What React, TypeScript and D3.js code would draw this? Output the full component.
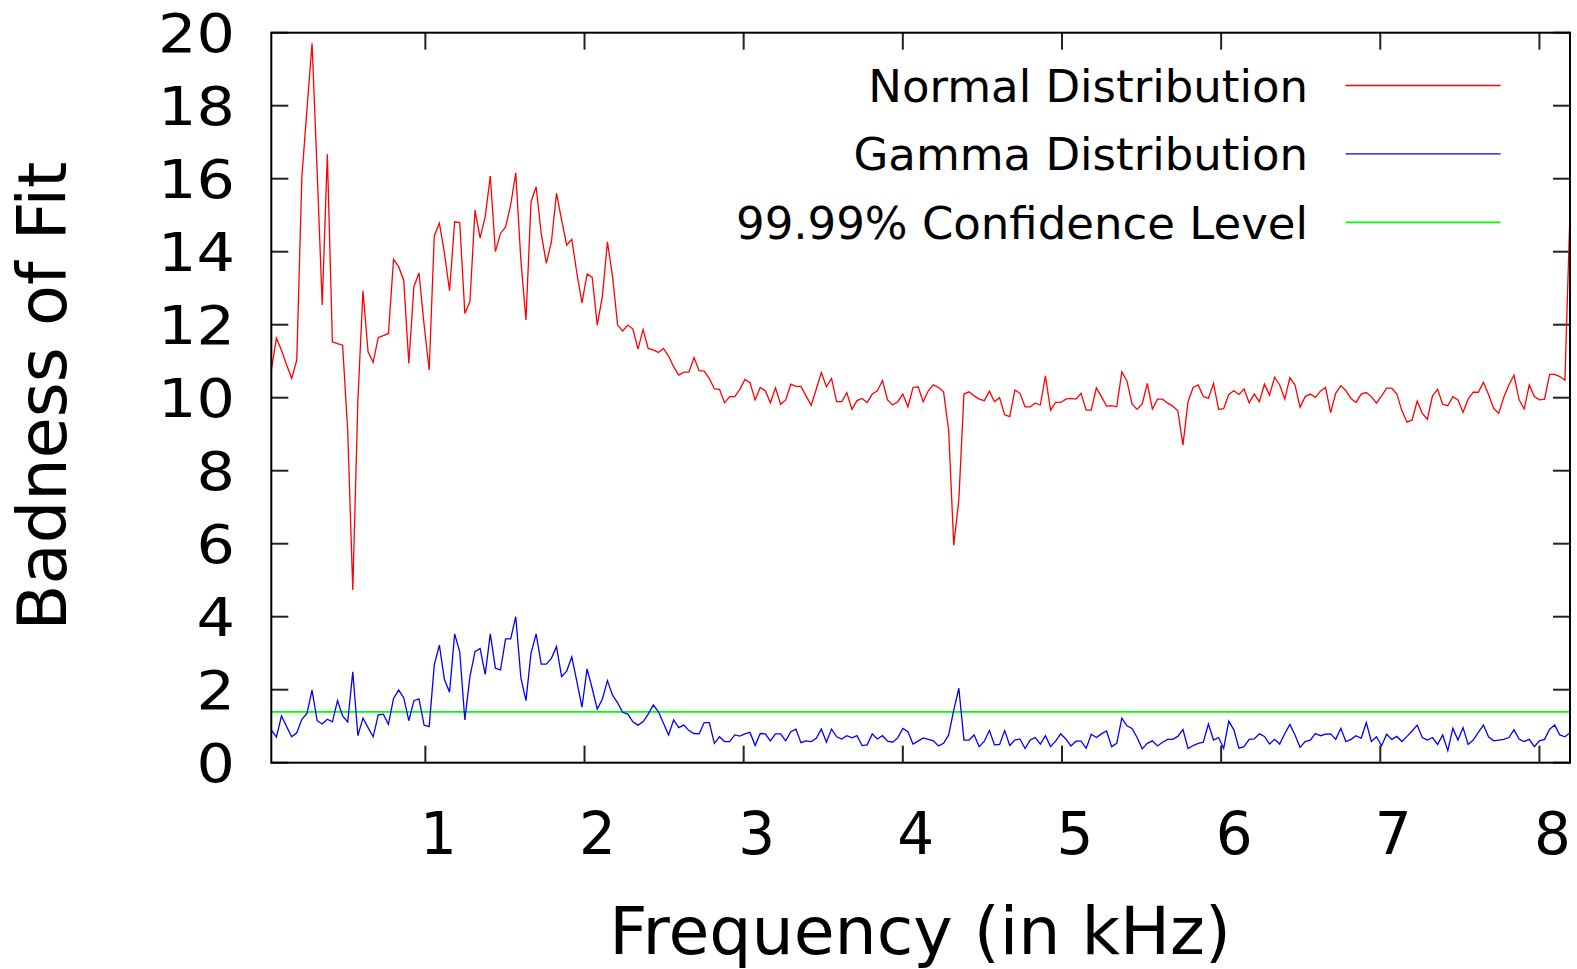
import React from "react";
import * as d3 from "d3";

const FREQ_STEP = 0.032; // kHz between successive bins

const normalDist: number[] = [
  10.75, 11.63, 11.3, 10.9, 10.53, 11.03, 16.05, 17.9, 19.71, 16.2,
  12.54, 16.67, 11.53, 11.48, 11.44, 9.1, 4.73, 9.93, 12.93, 11.26,
  10.97, 11.65, 11.7, 11.76, 13.79, 13.59, 13.22, 10.94, 13.04, 13.42,
  12.0, 10.76, 14.43, 14.78, 13.96, 12.93, 14.82, 14.8, 12.31, 12.63,
  15.14, 14.37, 14.96, 16.07, 14.0, 14.5, 14.68, 15.28, 16.16, 13.77,
  12.13, 15.37, 15.78, 14.5, 13.68, 14.27, 15.6, 14.87, 14.18, 14.34,
  13.41, 12.6, 13.39, 13.3, 11.99, 12.77, 14.27, 13.32, 11.99, 11.83,
  11.99, 11.88, 11.33, 11.87, 11.35, 11.31, 11.24, 11.35, 11.14, 10.85,
  10.62, 10.7, 10.7, 11.1, 10.74, 10.73, 10.53, 10.24, 10.23, 9.86,
  10.03, 10.03, 10.23, 10.5, 10.41, 9.94, 10.28, 10.19, 9.86, 10.27,
  9.82, 9.94, 10.37, 10.31, 10.31, 10.05, 9.79, 10.23, 10.69, 10.3,
  10.53, 9.89, 9.89, 10.14, 9.68, 9.92, 9.98, 9.87, 10.1, 10.19,
  10.47, 9.94, 9.8, 9.89, 10.1, 9.75, 10.28, 10.3, 9.89, 10.19,
  10.35, 10.28, 10.16, 9.11, 5.96, 7.2, 10.1, 10.16, 10.05, 9.96,
  9.92, 10.18, 9.89, 10.0, 9.53, 9.48, 10.21, 10.12, 9.75, 9.75,
  9.85, 9.8, 10.6, 9.66, 9.87, 9.87, 9.96, 9.98, 9.96, 10.12,
  9.66, 9.66, 10.27, 10.03, 9.77, 9.78, 9.75, 10.71, 10.46, 9.83,
  9.68, 9.83, 10.39, 9.69, 9.96, 9.96, 9.85, 9.77, 9.64, 8.7,
  9.89, 10.28, 10.35, 10.03, 9.98, 10.39, 9.68, 9.7, 10.09, 10.19,
  10.09, 10.24, 9.86, 10.1, 9.89, 10.37, 10.07, 10.56, 10.35, 9.96,
  10.55, 10.35, 9.74, 10.03, 10.1, 10.01, 10.18, 10.28, 9.59, 10.12,
  10.33, 10.19, 9.98, 9.87, 10.1, 10.14, 10.03, 9.85, 10.05, 10.26,
  10.26, 10.1, 9.64, 9.33, 9.39, 9.91, 9.57, 9.41, 10.05, 10.23,
  9.82, 9.78, 10.03, 9.94, 9.6, 9.96, 10.15, 10.15, 10.42, 10.09,
  9.71, 9.57, 10.01, 10.35, 10.62, 9.94, 9.69, 10.35, 10.03, 9.94,
  9.96, 10.64, 10.64, 10.58, 10.48, 15.09,
];

const gammaDist: number[] = [
  0.9, 0.7, 1.28, 0.99, 0.71, 0.82, 1.19, 1.35, 1.99, 1.15,
  1.06, 1.19, 1.12, 1.7, 1.28, 1.12, 2.49, 0.74, 1.22, 0.96,
  0.71, 1.31, 1.33, 1.05, 1.76, 1.99, 1.78, 1.15, 1.7, 1.75,
  1.03, 0.99, 2.68, 3.22, 2.28, 1.93, 3.53, 3.04, 1.17, 2.36,
  3.04, 3.13, 2.42, 3.53, 2.59, 2.54, 3.39, 3.39, 4.0, 2.33,
  1.7, 3.0, 3.53, 2.7, 2.7, 2.86, 3.18, 2.36, 2.51, 2.9,
  2.22, 1.52, 2.57, 2.04, 1.47, 1.74, 2.25, 1.85, 1.64, 1.38,
  1.33, 1.12, 1.03, 1.12, 1.33, 1.58, 1.4, 1.08, 0.76, 1.17,
  0.96, 1.03, 0.88, 0.8, 0.79, 1.1, 1.1, 0.53, 0.71, 0.58,
  0.58, 0.76, 0.73, 0.79, 0.83, 0.47, 0.8, 0.79, 0.6, 0.79,
  0.79, 0.6, 0.85, 0.92, 0.55, 0.6, 0.58, 0.67, 0.92, 0.56,
  0.92, 0.71, 0.65, 0.74, 0.68, 0.74, 0.47, 0.49, 0.79, 0.65,
  0.74, 0.59, 0.56, 0.68, 0.94, 0.85, 0.51, 0.59, 0.68, 0.64,
  0.6, 0.46, 0.53, 0.76, 1.44, 2.04, 0.62, 0.62, 0.76, 0.44,
  0.59, 0.88, 0.49, 0.5, 0.88, 0.47, 0.62, 0.65, 0.39, 0.62,
  0.69, 0.51, 0.74, 0.44, 0.59, 0.79, 0.65, 0.46, 0.59, 0.59,
  0.39, 0.78, 0.69, 0.79, 0.87, 0.44, 0.53, 1.22, 1.01, 0.94,
  0.69, 0.38, 0.53, 0.6, 0.46, 0.56, 0.64, 0.64, 0.72, 0.91,
  0.39, 0.47, 0.53, 0.56, 1.06, 0.62, 0.69, 0.39, 1.14, 0.9,
  0.4, 0.44, 0.64, 0.65, 0.79, 0.72, 0.51, 0.64, 0.51, 0.8,
  1.05, 0.76, 0.42, 0.58, 0.62, 0.8, 0.74, 0.78, 0.79, 0.64,
  0.94, 0.58, 0.64, 0.74, 0.67, 1.1, 0.58, 0.71, 0.46, 0.78,
  0.64, 0.72, 0.58, 0.72, 0.87, 1.03, 0.69, 0.62, 0.69, 0.5,
  0.76, 0.33, 0.94, 0.62, 0.96, 0.5, 0.62, 0.83, 1.03, 0.71,
  0.6, 0.62, 0.64, 0.69, 0.9, 0.65, 0.58, 0.64, 0.44, 0.6,
  0.64, 0.92, 1.03, 0.76, 0.71, 0.82,
];

const confidenceLevel = 1.39;

const xTicks = [1, 2, 3, 4, 5, 6, 7, 8];
const yTicks = [0, 2, 4, 6, 8, 10, 12, 14, 16, 18, 20];

const legendLabels = ["Normal Distribution", "Gamma Distribution", "99.99% Confidence Level"];
const legendColors = ["#ff0000", "#0000ff", "#00ff00"];

const W = 1577;
const H = 969;
const M = { left: 271.3, top: 32.7, right: 1570, bottom: 762.7 };
const FONT = "'DejaVu Sans', 'Liberation Sans', sans-serif";

export default function App() {
  const n = normalDist.length;
  const x = d3
    .scaleLinear()
    .domain([FREQ_STEP, n * FREQ_STEP])
    .range([M.left, M.right]);
  const y = d3.scaleLinear().domain([0, 20]).range([M.bottom, M.top]);

  const line = d3
    .line<number>()
    .x((_, i) => x((i + 1) * FREQ_STEP))
    .y((d) => y(d));

  const tickLen = 17;

  return (
    <div style={{ position: "absolute", left: 0, top: 0 }}>
      <svg width={W} height={H} style={{ display: "block", background: "#fff" }}>
        <defs>
          <clipPath id="plotclip">
            <rect x={M.left} y={M.top} width={M.right - M.left} height={M.bottom - M.top} />
          </clipPath>
        </defs>

        {/* ticks (mirrored on all sides) */}
        {yTicks.map((t) => (
          <g key={"yt" + t}>
            <line x1={M.left} x2={M.left + tickLen} y1={y(t)} y2={y(t)} stroke="#222" strokeWidth={2} />
            <line x1={M.right} x2={M.right - tickLen} y1={y(t)} y2={y(t)} stroke="#222" strokeWidth={2} />
            <g transform={`translate(235,${y(t) + 19}) scale(1.14,1)`}>
              <text textAnchor="end" fontFamily={FONT} fontSize={53} fill="#000">
                {t}
              </text>
            </g>
          </g>
        ))}
        {xTicks.map((t) => (
          <g key={"xt" + t}>
            <line x1={x(t)} x2={x(t)} y1={M.bottom} y2={M.bottom - tickLen} stroke="#222" strokeWidth={2} />
            <line x1={x(t)} x2={x(t)} y1={M.top} y2={M.top + tickLen} stroke="#222" strokeWidth={2} />
            <text
              x={x(t) + 13}
              y={854}
              textAnchor="middle"
              fontFamily={FONT}
              fontSize={58}
              fill="#000"
            >
              {t}
            </text>
          </g>
        ))}

        {/* data */}
        <g clipPath="url(#plotclip)">
          <line
            x1={M.left}
            x2={M.right}
            y1={y(confidenceLevel)}
            y2={y(confidenceLevel)}
            stroke={legendColors[2]}
            strokeWidth={1.8}
          />
          <path d={line(gammaDist) || ""} fill="none" stroke={legendColors[1]} strokeWidth={1.3} />
          <path d={line(normalDist) || ""} fill="none" stroke={legendColors[0]} strokeWidth={1.3} />
        </g>

        {/* frame */}
        <rect
          x={M.left}
          y={M.top}
          width={M.right - M.left}
          height={M.bottom - M.top}
          fill="none"
          stroke="#000"
          strokeWidth={2}
        />

        {/* legend */}
        {legendLabels.map((lab, i) => {
          const cy = 85.5 + i * 68.4;
          return (
            <g key={lab}>
              <text x={1308} y={cy + 16.5} textAnchor="end" fontFamily={FONT} fontSize={45} fill="#000">
                {lab}
              </text>
              <line x1={1345.6} x2={1500.5} y1={cy} y2={cy} stroke={legendColors[i]} strokeWidth={i === 2 ? 1.8 : 1.3} />
            </g>
          );
        })}

        {/* axis titles */}
        <text x={920} y={954} textAnchor="middle" fontFamily={FONT} fontSize={66.5} fill="#000">
          Frequency (in kHz)
        </text>
        <text
          transform="translate(65.5,396) rotate(-90)"
          textAnchor="middle"
          fontFamily={FONT}
          fontSize={67}
          fill="#000"
        >
          Badness of Fit
        </text>
      </svg>
    </div>
  );
}
